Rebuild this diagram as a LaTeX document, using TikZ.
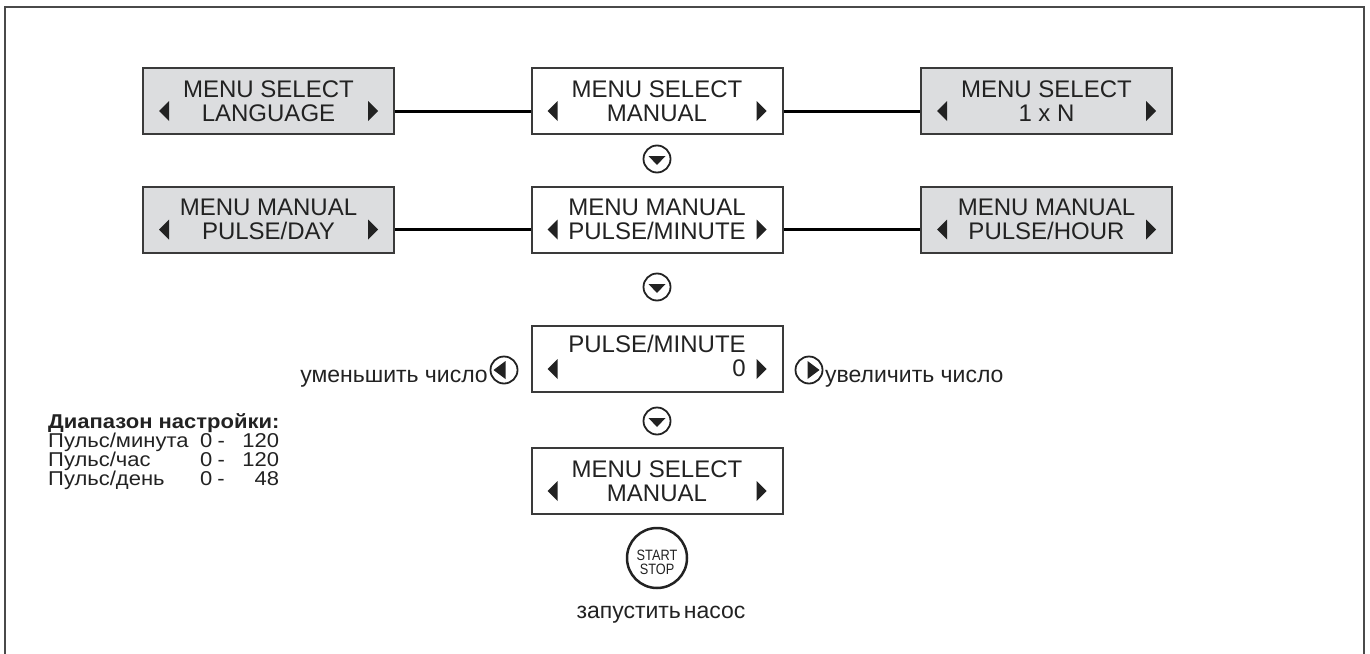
\documentclass[tikz,border=0pt]{standalone}
\usepackage{fontspec}
\setmainfont{Liberation Sans}
\newfontfamily\widefont[FakeStretch=1.1]{Liberation Sans}
\usepackage{graphicx}
\usetikzlibrary{calc}
\definecolor{boxfill}{HTML}{DCDDDF}
\definecolor{boxline}{HTML}{3A3A3A}
\definecolor{txt}{HTML}{222222}
\definecolor{framec}{HTML}{4A4A4A}
\newcommand{\tris}[1]{%
  \fill[tri] ($(#1.north west)+(17,44)$) -- ++(10,-10) -- ++(0,20) -- cycle;
  \fill[tri] ($(#1.north east)+(-17,44)$) -- ++(-10,-10) -- ++(0,20) -- cycle;}
\newcommand{\downcirc}[3]{%
  \node[rcirc] (#1) at (#2,#3) {};
  \fill[tri] ($(#1.center)+(-8.5,-3)$) -- ($(#1.center)+(8.5,-3)$) -- ($(#1.center)+(0,6)$) -- cycle;}
\newcommand{\legrow}[3]{\makebox[152pt][l]{#1}\makebox[14pt][l]{#2}\makebox[14pt][c]{-}\makebox[51pt][r]{#3}}
\begin{document}
\begin{tikzpicture}[x=1pt,y=-1pt,
  menubox/.style={draw=boxline,line width=2pt,minimum width=251pt,minimum height=66pt,inner sep=0pt,align=center,font=\fontsize{24}{24}\selectfont,text=txt},
  grey/.style={fill=boxfill},
  conn/.style={line width=3pt,draw=black},
  tri/.style={fill=txt},
  rcirc/.style={circle,draw=txt,line width=1.8pt,minimum size=27pt,inner sep=0pt},
  body/.style={font=\fontsize{23}{23}\selectfont,text=txt,inner sep=0pt},
  legend/.style={font=\widefont\fontsize{20}{20}\selectfont,text=txt,inner sep=0pt,anchor=base west},
  frame/.style={draw=framec,line width=2pt}
]
\useasboundingbox (0,0) rectangle (1370,653);
\draw[frame] (4.5,660) -- (4.5,6.5) -- (1364,6.5) -- (1364,660);

% row 1
\node[menubox,grey] (L1) at (268.5,101) {MENU SELECT\\LANGUAGE};
\node[menubox,fill=white] (C1) at (657,101) {MENU SELECT\\MANUAL};
\node[menubox,grey] (R1) at (1046.5,101) {MENU SELECT\\1 x N};
% row 2
\node[menubox,grey] (L2) at (268.5,219.5) {MENU MANUAL\\PULSE/DAY};
\node[menubox,fill=white] (C2) at (657,219.5) {MENU MANUAL\\PULSE/MINUTE};
\node[menubox,grey] (R2) at (1046.5,219.5) {MENU MANUAL\\PULSE/HOUR};
% row 3
\node[menubox,fill=white] (C3) at (657,359) {\begin{tabular}{@{}r@{}}PULSE/MINUTE\\0\end{tabular}};
% row 4
\node[menubox,fill=white] (C4) at (657,481) {MENU SELECT\\MANUAL};

\foreach \n in {L1,C1,R1,L2,C2,R2,C3,C4} {\tris{\n}}

\draw[conn] ($(L1.north east)+(0,44)$) -- ($(C1.north west)+(0,44)$);
\draw[conn] ($(C1.north east)+(0,44)$) -- ($(R1.north west)+(0,44)$);
\draw[conn] ($(L2.north east)+(0,44)$) -- ($(C2.north west)+(0,44)$);
\draw[conn] ($(C2.north east)+(0,44)$) -- ($(R2.north west)+(0,44)$);

\downcirc{d1}{657}{159}
\downcirc{d2}{657}{287}
\downcirc{d3}{657}{421}

% left / right circles
\node[rcirc] (lc) at (504,370) {};
\fill[tri] ($(lc.center)+(1.5,-9)$) -- ($(lc.center)+(1.5,9)$) -- ($(lc.center)+(-10.5,0)$) -- cycle;
\node[rcirc] (rc) at (809,370) {};
\fill[tri] ($(rc.center)+(-1.5,-9)$) -- ($(rc.center)+(-1.5,9)$) -- ($(rc.center)+(10.5,0)$) -- cycle;
\node[body,anchor=base east] (dec) at (488,382) {уменьшить число};
\node[body,anchor=base west] (inc) at (825,382) {увеличить число};

% start stop
\node[circle,draw=txt,line width=2.5pt,minimum size=60pt,inner sep=0pt] (ss) at (657,558) {};
\node[inner sep=0pt,font=\fontsize{15}{15}\selectfont,text=txt,anchor=base] (ss1) at (657,560) {\scalebox{0.85}[1]{START}};
\node[inner sep=0pt,font=\fontsize{15}{15}\selectfont,text=txt,anchor=base] (ss2) at (657,574) {\scalebox{0.85}[1]{STOP}};
\node[body,anchor=base] (run) at (661,618) {запустить\hspace{3pt}насос};

% legend
\node[legend,font=\widefont\fontsize{20}{20}\selectfont\bfseries] (lg0) at (48,428) {Диапазон настройки:};
\node[legend] (lg1) at (48,447) {\legrow{Пульс/минута}{0}{120}};
\node[legend] (lg2) at (48,466) {\legrow{Пульс/час}{0}{120}};
\node[legend] (lg3) at (48,485) {\legrow{Пульс/день}{0}{48}};
\end{tikzpicture}
\end{document}
